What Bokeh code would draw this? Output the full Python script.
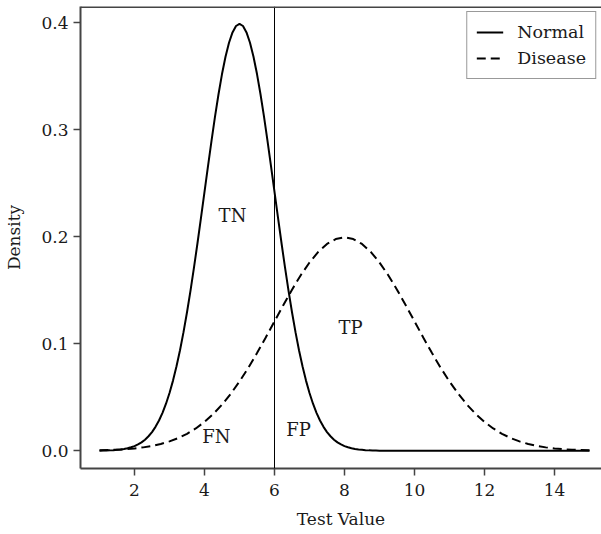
from bokeh.plotting import figure
from bokeh.models import Span, Legend, LegendItem, FixedTicker, NumeralTickFormatter, Range1d, ColumnDataSource
from bokeh.core.properties import value
from bokeh.embed import file_html
from bokeh.resources import INLINE

# ---- data ----
normal_x = [1.0, 1.1, 1.2, 1.3, 1.4, 1.5, 1.6, 1.7, 1.8, 1.9,
            2.0, 2.1, 2.2, 2.3, 2.4, 2.5, 2.6, 2.7, 2.8, 2.9,
            3.0, 3.1, 3.2, 3.3, 3.4, 3.5, 3.6, 3.7, 3.8, 3.9,
            4.0, 4.1, 4.2, 4.3, 4.4, 4.5, 4.6, 4.7, 4.8, 4.9,
            5.0, 5.1, 5.2, 5.3, 5.4, 5.5, 5.6, 5.7, 5.8, 5.9,
            6.0, 6.1, 6.2, 6.3, 6.4, 6.5, 6.6, 6.7, 6.8, 6.9,
            7.0, 7.1, 7.2, 7.3, 7.4, 7.5, 7.6, 7.7, 7.8, 7.9,
            8.0, 8.1, 8.2, 8.3, 8.4, 8.5, 8.6, 8.7, 8.8, 8.9,
            9.0, 15.0]
normal_density = [0.0001, 0.0002, 0.0003, 0.0004, 0.0006, 0.0009, 0.0012, 0.0017, 0.0024, 0.0033,
                  0.0044, 0.0060, 0.0079, 0.0104, 0.0136, 0.0175, 0.0224, 0.0283, 0.0355, 0.0440,
                  0.0540, 0.0656, 0.0790, 0.0940, 0.1109, 0.1295, 0.1497, 0.1714, 0.1942, 0.2179,
                  0.2420, 0.2661, 0.2897, 0.3123, 0.3332, 0.3521, 0.3683, 0.3814, 0.3910, 0.3970,
                  0.3989, 0.3970, 0.3910, 0.3814, 0.3683, 0.3521, 0.3332, 0.3123, 0.2897, 0.2661,
                  0.2420, 0.2179, 0.1942, 0.1714, 0.1497, 0.1295, 0.1109, 0.0940, 0.0790, 0.0656,
                  0.0540, 0.0440, 0.0355, 0.0283, 0.0224, 0.0175, 0.0136, 0.0104, 0.0079, 0.0060,
                  0.0044, 0.0033, 0.0024, 0.0017, 0.0012, 0.0009, 0.0006, 0.0004, 0.0003, 0.0002,
                  0.0001, 0.0]
disease_x = [1.0, 1.25, 1.5, 1.75, 2.0, 2.25, 2.5, 2.75, 3.0, 3.25, 3.5, 3.75,
             4.0, 4.25, 4.5, 4.75, 5.0, 5.25, 5.5, 5.75, 6.0, 6.25, 6.5, 6.75,
             7.0, 7.25, 7.5, 7.75, 8.0, 8.25, 8.5, 8.75, 9.0, 9.25, 9.5, 9.75,
             10.0, 10.25, 10.5, 10.75, 11.0, 11.25, 11.5, 11.75, 12.0, 12.25, 12.5, 12.75,
             13.0, 13.25, 13.5, 13.75, 14.0, 14.25, 14.5, 14.75, 15.0]
disease_density = [0.0004, 0.0007, 0.0010, 0.0015, 0.0022, 0.0032, 0.0045, 0.0064, 0.0088, 0.0119, 0.0159, 0.0209,
                   0.0270, 0.0344, 0.0431, 0.0533, 0.0648, 0.0775, 0.0913, 0.1059, 0.1210, 0.1360, 0.1506, 0.1641,
                   0.1760, 0.1859, 0.1933, 0.1979, 0.1995, 0.1979, 0.1933, 0.1859, 0.1760, 0.1641, 0.1506, 0.1360,
                   0.1210, 0.1059, 0.0913, 0.0775, 0.0648, 0.0533, 0.0431, 0.0344, 0.0270, 0.0209, 0.0159, 0.0119,
                   0.0088, 0.0064, 0.0045, 0.0032, 0.0022, 0.0015, 0.0010, 0.0007, 0.0004]
cutoff = 6
region_labels = ["TN", "FN", "FP", "TP"]
region_x = [4.8, 4.34, 6.69, 8.17]
region_y = [0.22, 0.0134, 0.020, 0.115]
x_ticks = [2, 4, 6, 8, 10, 12, 14]
y_ticks = [0.0, 0.1, 0.2, 0.3, 0.4]

FONT = "DejaVu Serif"
TXT = "#1a1a1a"
AX = "#444444"

Y0, Y1 = -0.01654, 0.41523
p = figure(width=601, height=534, output_backend="svg", toolbar_location=None,
           x_range=Range1d(0.457, 15.343), y_range=Range1d(Y0, Y1),
           min_border_left=80, min_border_right=0, min_border_top=6, min_border_bottom=66)
p.outline_line_color = None
p.grid.visible = False
p.background_fill_color = "white"
p.border_fill_color = "white"

n_src = ColumnDataSource(dict(x=normal_x, y=normal_density))
d_src = ColumnDataSource(dict(x=disease_x, y=disease_density))
r_norm = p.line("x", "y", source=n_src, line_color="black", line_width=2)
r_dis = p.line("x", "y", source=d_src, line_color="black", line_width=2, line_dash="9 5")

p.add_layout(Span(location=cutoff, dimension="height", line_color="black", line_width=1))
p.add_layout(Span(location=Y1 - 0.0005, dimension="width", line_color=AX, line_width=2))

p.text(x=region_x, y=region_y, text=region_labels, text_font=value(FONT),
       text_font_size="18px", text_align="center", text_baseline="middle", text_color=TXT)

for ax in (p.xaxis[0], p.yaxis[0]):
    ax.axis_line_color = AX
    ax.axis_line_width = 2
    ax.major_tick_line_color = AX
    ax.major_tick_line_width = 1.5
    ax.major_tick_out = 7
    ax.major_tick_in = 0
    ax.minor_tick_line_color = None
    ax.major_label_text_font = FONT
    ax.major_label_text_font_size = "17px"
    ax.major_label_text_color = TXT
    ax.axis_label_text_font = FONT
    ax.axis_label_text_font_size = "17px"
    ax.axis_label_text_font_style = "normal"
    ax.axis_label_text_color = TXT

p.xaxis.ticker = FixedTicker(ticks=x_ticks)
p.yaxis.ticker = FixedTicker(ticks=y_ticks)
p.yaxis.formatter = NumeralTickFormatter(format="0.0")
p.yaxis.major_label_orientation = "horizontal"
p.xaxis.axis_label = "Test Value"
p.yaxis.axis_label = "Density"
p.xaxis.major_label_standoff = 8
p.xaxis.axis_label_standoff = 10
p.yaxis.major_label_standoff = 5
p.yaxis.axis_label_standoff = 14

legend = Legend(items=[LegendItem(label="Normal", renderers=[r_norm]),
                       LegendItem(label="Disease", renderers=[r_dis])],
                location="top_right", margin=5, padding=9, spacing=4,
                glyph_width=27, glyph_height=22, label_height=22, label_standoff=14,
                label_text_font=FONT, label_text_font_size="17.5px", label_text_color=TXT,
                border_line_color="#333333", border_line_width=1.2,
                background_fill_alpha=1.0)
p.add_layout(legend)

open("out.html", "w").write(file_html(p, INLINE))
